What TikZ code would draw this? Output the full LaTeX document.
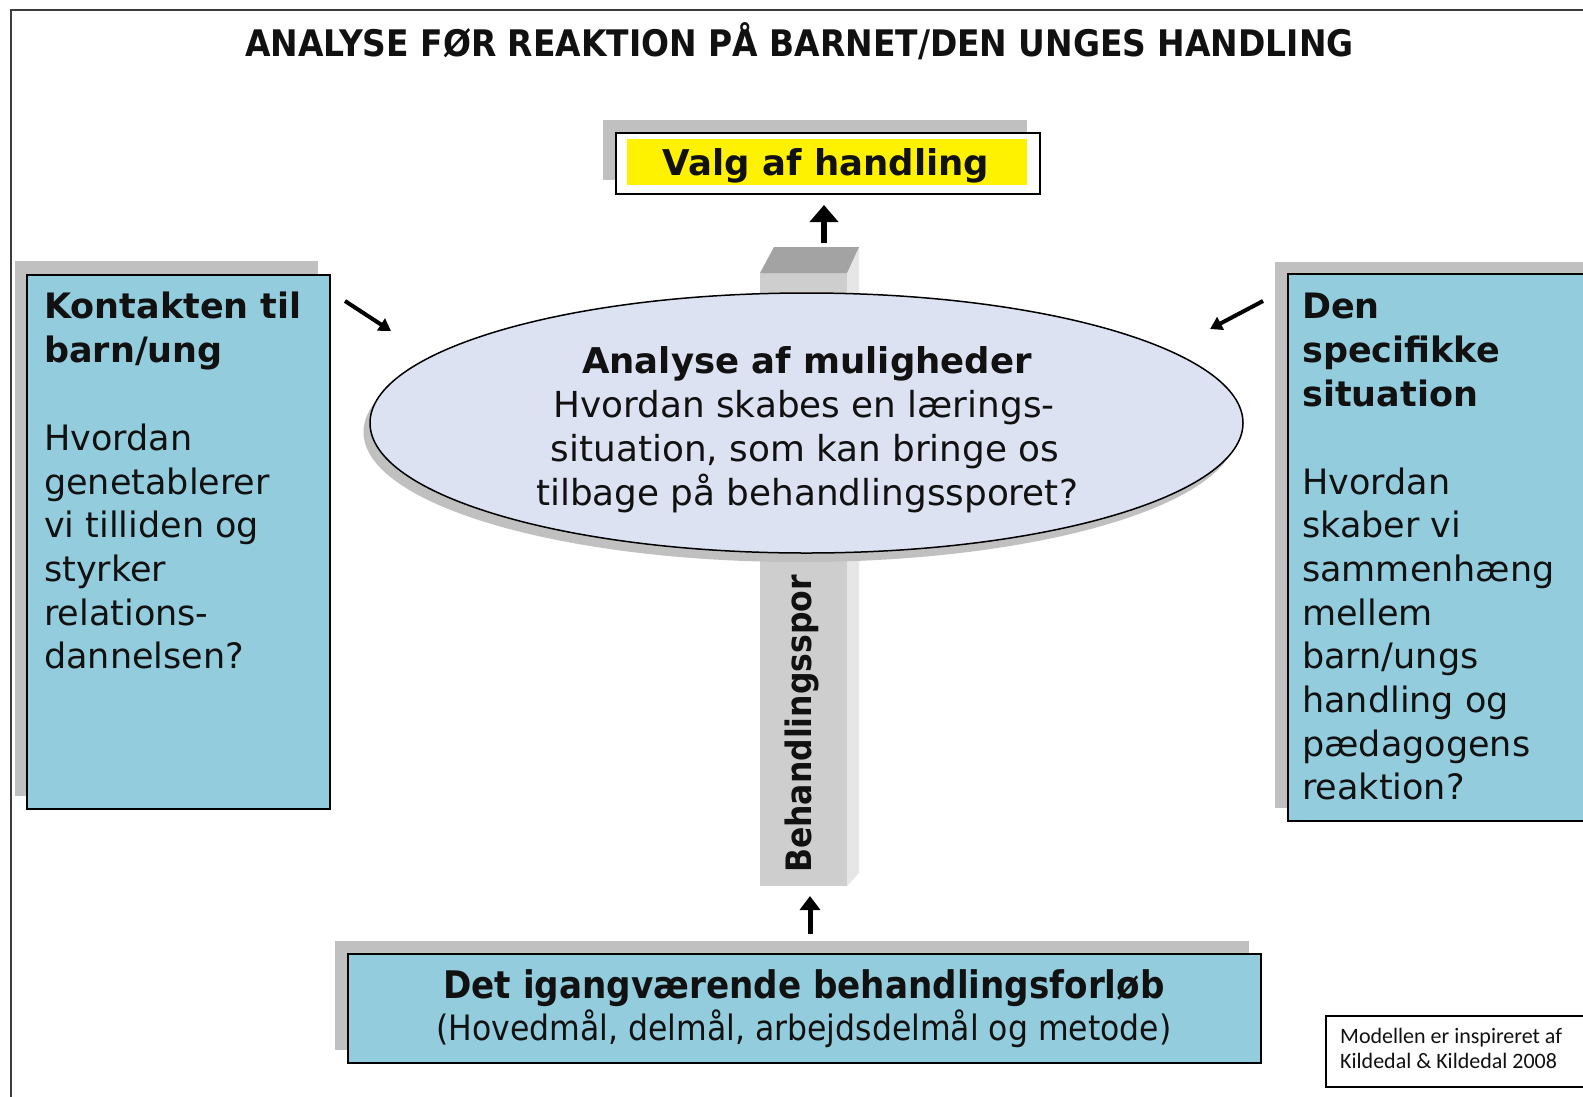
\documentclass[tikz,border=0pt]{standalone}
\usepackage{fontspec}
\setmainfont{DejaVu Sans}
\newfontfamily\condf{DejaVu Sans Condensed}
\newfontfamily\calf{Carlito}
\usetikzlibrary{arrows.meta,shapes.geometric}
\definecolor{boxblue}{RGB}{147,205,221}
\definecolor{shadowgray}{RGB}{192,192,192}
\definecolor{elfill}{RGB}{221,226,243}
\definecolor{pfront}{RGB}{206,206,206}
\definecolor{pside}{RGB}{230,230,230}
\definecolor{ptop}{RGB}{163,163,163}
\definecolor{framec}{RGB}{60,60,60}
\definecolor{ink}{RGB}{17,17,17}
\newcommand{\fsz}[1]{\fontsize{#1}{#1}\selectfont}
\begin{document}
\begin{tikzpicture}[x=1pt,y=-1pt,
  every node/.style={text=ink},
  bluebox/.style={draw=black, line width=1.5pt, fill=boxblue, inner sep=0pt, anchor=north west},
  shadowbox/.style={fill=shadowgray},
  sidetxt/.style={inner sep=0pt, anchor=base west, font=\fsz{35}},
  sidehead/.style={inner sep=0pt, anchor=base west, font=\fsz{35}\bfseries},
  ctxt/.style={inner sep=0pt, anchor=base, font=\fsz{35.8}},
  bigarrow/.style={line width=6pt, -{Triangle[width=28pt,length=17pt]}},
  smallarrow/.style={line width=5pt, -{Triangle[width=20pt,length=14pt]}},
  diagarrow/.style={line width=4pt, -{Triangle[width=14pt,length=12pt]}}
]
\useasboundingbox (0,0) rectangle (1583,1096);
\clip (0,0) rectangle (1583,1096);
\fill[white] (0,0) rectangle (1583,1096);

% outer frame
\draw[framec, line width=2pt] (1600,10) -- (11,10) -- (11,1110);

% title
\node[inner sep=0pt, anchor=base, font=\condf\bfseries\fsz{36.6}] (title) at (799.5,56)
  {ANALYSE FØR REAKTION PÅ BARNET/DEN UNGES HANDLING};

% pillar
\fill[pside] (847,273) -- (859,247) -- (859,873) -- (847,886) -- cycle;
\fill[pfront] (760,273) rectangle (847,886);
\fill[ptop] (760,273) -- (847,273) -- (859,247) -- (774,247) -- cycle;
\node[inner sep=0pt, anchor=base, rotate=90, font=\condf\bfseries\fsz{35}] (spor) at (811,724) {Behandlingsspor};

% ellipse
\fill[shadowgray] (800,432) ellipse [x radius=436.5pt, y radius=130pt];
\node[ellipse, draw=black, line width=1.5pt, fill=elfill, minimum width=873pt, minimum height=260pt, inner sep=0pt] (ell) at (806.5,423) {};
\node[ctxt, font=\fsz{35.5}\bfseries] (e1) at (807,373) {Analyse af muligheder};
\node[ctxt] (e2) at (804,417) {Hvordan skabes en lærings-};
\node[ctxt] (e3) at (805,461) {situation, som kan bringe os};
\node[ctxt] (e4) at (807,505) {tilbage på behandlingssporet?};

% Valg af handling
\fill[shadowgray] (603,120) rectangle (1027,180);
\node[draw=black, line width=2pt, fill=white, inner sep=0pt, minimum width=424pt, minimum height=61pt, anchor=north west] (valgbox) at (615,132) {};
\fill[yellow] (627,139) rectangle (1027,185);
\node[inner sep=0pt, anchor=base, font=\fsz{35.5}\bfseries] (valg) at (826,175) {Valg af handling};

% left box
\fill[shadowgray] (15,261) rectangle (318,796);
\node[bluebox, minimum width=303pt, minimum height=534pt] (lbox) at (26,274) {};
\node[sidehead] (l1) at (44,318) {Kontakten til};
\node[sidehead] (l2) at (44,362) {barn/ung};
\node[sidetxt] (l3) at (44,450) {Hvordan};
\node[sidetxt] (l4) at (44,494) {genetablerer};
\node[sidetxt] (l5) at (44,537) {vi tilliden og};
\node[sidetxt] (l6) at (44,581) {styrker};
\node[sidetxt] (l7) at (44,625) {relations-};
\node[sidetxt] (l8) at (44,668) {dannelsen?};

% right box
\fill[shadowgray] (1275,262) rectangle (1600,808);
\node[bluebox, minimum width=320pt, minimum height=547pt] (rbox) at (1287,273) {};
\node[sidehead] (r1) at (1302,318) {Den};
\node[sidehead] (r2) at (1302,362) {specifikke};
\node[sidehead] (r3) at (1302,406) {situation};
\node[sidetxt] (r4) at (1302,494) {Hvordan};
\node[sidetxt] (r5) at (1302,537) {skaber vi};
\node[sidetxt] (r6) at (1302,581) {sammenhæng};
\node[sidetxt] (r7) at (1302,625) {mellem};
\node[sidetxt] (r8) at (1302,668) {barn/ungs};
\node[sidetxt] (r9) at (1302,712) {handling og};
\node[sidetxt] (r10) at (1302,756) {pædagogens};
\node[sidetxt] (r11) at (1302,799) {reaktion?};

% bottom box
\fill[shadowgray] (335,941) rectangle (1249,1050);
\node[bluebox, minimum width=913pt, minimum height=109pt] (bbox) at (347,953) {};
\node[ctxt, font=\condf\bfseries\fsz{38}] (b1) at (804,998) {Det igangværende behandlingsforløb};
\node[ctxt, font=\condf\fsz{35}] (b2) at (804,1040) {(Hovedmål, delmål, arbejdsdelmål og metode)};

% note box
\node[draw=black, line width=1.5pt, fill=white, inner sep=0pt, minimum width=280pt, minimum height=71pt, anchor=north west] (note) at (1325,1015) {};
\node[inner sep=0pt, anchor=base west, font=\calf\fsz{22}] (n1) at (1340,1043) {Modellen er inspireret af};
\node[inner sep=0pt, anchor=base west, font=\calf\fsz{22}] (n2) at (1340,1068) {Kildedal \& Kildedal 2008};

% arrows
\coordinate (ta) at (824,243);
\coordinate (tb) at (824,205);
\draw[bigarrow] (ta) -- (tb);
\coordinate (ba) at (810,934);
\coordinate (bb) at (810,896);
\draw[smallarrow] (ba) -- (bb);
\coordinate (la) at (345,301);
\coordinate (lb) at (391,331);
\draw[diagarrow] (la) -- (lb);
\coordinate (ra) at (1263,301);
\coordinate (rb) at (1210,329);
\draw[diagarrow] (ra) -- (rb);
\end{tikzpicture}
\end{document}
